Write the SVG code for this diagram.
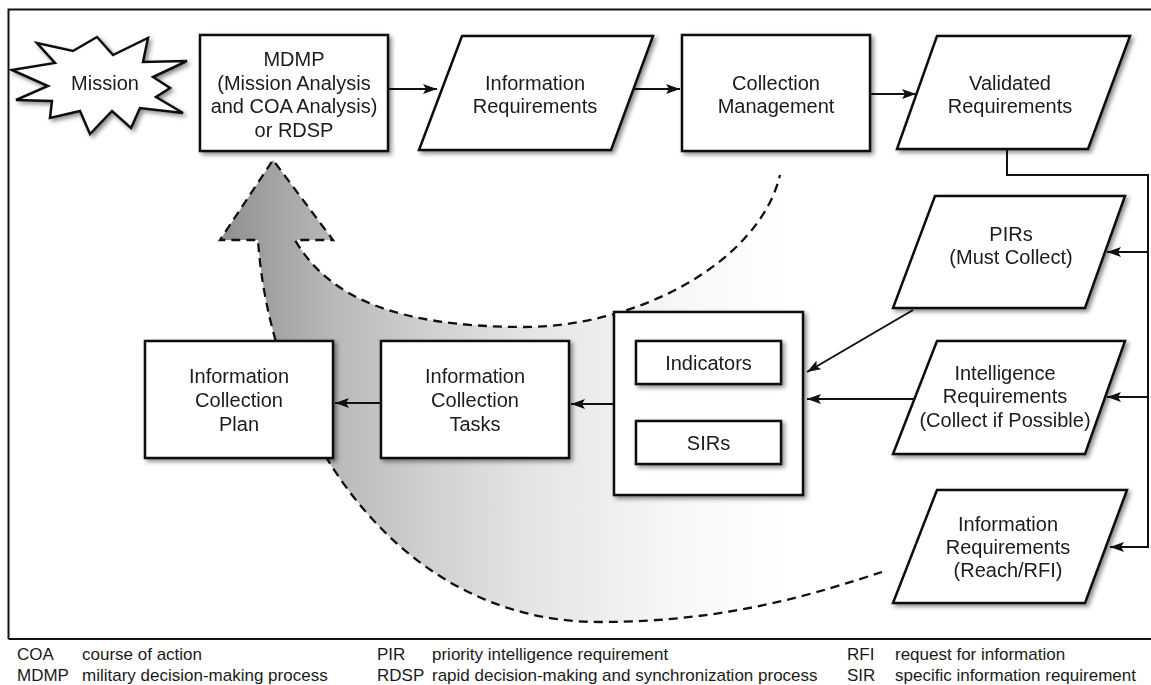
<svg xmlns="http://www.w3.org/2000/svg" width="1151" height="685" viewBox="0 0 1151 685">
  <defs>
    <style>
      .box { fill: #fff; stroke: #111; stroke-width: 2.5; }
      .lbl { font-family: "Liberation Sans", Arial, sans-serif; font-size: 20px; fill: #1a1a1a; text-anchor: middle; }
      .leg { font-family: "Liberation Sans", Arial, sans-serif; font-size: 17px; fill: #1a1a1a; }
      .frame { stroke: #111; stroke-width: 2; fill: none; }
      .conn { stroke: #111; stroke-width: 2; fill: none; }
      .dash { stroke: #111; stroke-width: 2.3; fill: none; stroke-dasharray: 9 6; stroke-linejoin: miter; }
    </style>
    <marker id="ah" viewBox="0 0 14 10" refX="14" refY="5" markerWidth="14" markerHeight="10" orient="auto" markerUnits="userSpaceOnUse">
      <path d="M0,0 L14,5 L0,10 L3,5 z" fill="#111"/>
    </marker>
    <filter id="shadow" x="-10%" y="-10%" width="125%" height="130%">
      <feDropShadow dx="2.5" dy="2.5" stdDeviation="2.2" flood-color="#000" flood-opacity="0.45"/>
    </filter>
    <linearGradient id="sweep" gradientUnits="userSpaceOnUse" x1="220" y1="0" x2="790" y2="0">
      <stop offset="0" stop-color="#8f8f8f"/>
      <stop offset="0.2" stop-color="#b9b9b9"/>
      <stop offset="0.35" stop-color="#cecece"/>
      <stop offset="0.55" stop-color="#e5e5e5"/>
      <stop offset="0.8" stop-color="#f7f7f7"/>
      <stop offset="1" stop-color="#ffffff"/>
    </linearGradient>
  </defs>

  <rect x="0" y="0" width="1151" height="685" fill="#fff"/>

  <!-- outer frame and legend separator -->
  <g id="frame">
    <path class="frame" d="M8.5,639 L8.5,9.5 L1151,9.5"/>
    <path class="frame" d="M8.5,639 L1151,639"/>
  </g>

  <!-- curved feedback arrow back to the MDMP -->
  <g id="feedback">
    <path fill="url(#sweep)" d="M882,572 C820,592 730,622 600,622 C390,622 270,420 258,240 L220,240 L273,160 L333,240 L295,240 C330,300 400,326 520,327 C640,328 760,260 780,175 Z"/>
    <path class="dash" d="M882,572 C820,592 730,622 600,622 C390,622 270,420 258,240 L220,240 L273,160 L333,240 L295,240 C330,300 400,326 520,327 C640,328 760,260 780,175"/>
  </g>

  <!-- connectors -->
  <g id="connectors">
    <line class="conn" x1="389" y1="89" x2="437" y2="89" marker-end="url(#ah)"/>
    <line class="conn" x1="634" y1="89" x2="680" y2="89" marker-end="url(#ah)"/>
    <line class="conn" x1="871" y1="94" x2="916" y2="94" marker-end="url(#ah)"/>
    <path class="conn" d="M1007,150 L1007,175 L1148,175 L1148,547 L1110,547" marker-end="url(#ah)"/>
    <line class="conn" x1="1148" y1="252" x2="1107" y2="252" marker-end="url(#ah)"/>
    <line class="conn" x1="1148" y1="397" x2="1107" y2="397" marker-end="url(#ah)"/>
    <line class="conn" x1="913" y1="310" x2="807" y2="372" marker-end="url(#ah)"/>
    <line class="conn" x1="914" y1="399" x2="807" y2="399" marker-end="url(#ah)"/>
    <line class="conn" x1="614" y1="404" x2="571" y2="404" marker-end="url(#ah)"/>
    <line class="conn" x1="381" y1="403" x2="335" y2="403" marker-end="url(#ah)"/>
  </g>

  <!-- nodes -->
  <g id="mission" filter="url(#shadow)">
    <path class="box" d="M12,70 L55,63 L37,43 L73,51 L97,37 L113,55 L148,38 L143,62 L187,61 L153,77 L170,88 L156,97 L183,113 L140,108 L131,128 L112,111 L90,134 L80,111 L50,118 L52,101 L16,100 L48,86 Z"/>
    <text class="lbl" x="105" y="90">Mission</text>
  </g>

  <g id="mdmp" filter="url(#shadow)">
    <rect class="box" x="200" y="35" width="188" height="116"/>
    <text class="lbl" x="294" y="66">MDMP</text>
    <text class="lbl" x="294" y="90">(Mission Analysis</text>
    <text class="lbl" x="294" y="113">and COA Analysis)</text>
    <text class="lbl" x="294" y="137">or RDSP</text>
  </g>

  <g id="info-req" filter="url(#shadow)">
    <path class="box" d="M462,36 L653,36 L611,150 L419,150 Z"/>
    <text class="lbl" x="535" y="90">Information</text>
    <text class="lbl" x="535" y="113">Requirements</text>
  </g>

  <g id="collection-mgmt" filter="url(#shadow)">
    <rect class="box" x="682" y="35" width="188" height="116"/>
    <text class="lbl" x="776" y="90">Collection</text>
    <text class="lbl" x="776" y="113">Management</text>
  </g>

  <g id="validated-req" filter="url(#shadow)">
    <path class="box" d="M937,36 L1130,36 L1088,149 L897,149 Z"/>
    <text class="lbl" x="1010" y="90">Validated</text>
    <text class="lbl" x="1010" y="113">Requirements</text>
  </g>

  <g id="pirs" filter="url(#shadow)">
    <path class="box" d="M935,196 L1125,196 L1085,308 L893,308 Z"/>
    <text class="lbl" x="1011" y="241">PIRs</text>
    <text class="lbl" x="1011" y="264">(Must Collect)</text>
  </g>

  <g id="intel-req" filter="url(#shadow)">
    <path class="box" d="M937,341 L1125,341 L1085,454 L893,454 Z"/>
    <text class="lbl" x="1005" y="380">Intelligence</text>
    <text class="lbl" x="1005" y="403">Requirements</text>
    <text class="lbl" x="1005" y="427">(Collect if Possible)</text>
  </g>

  <g id="info-req-rfi" filter="url(#shadow)">
    <path class="box" d="M937,490 L1127,490 L1085,603 L893,603 Z"/>
    <text class="lbl" x="1008" y="531">Information</text>
    <text class="lbl" x="1008" y="554">Requirements</text>
    <text class="lbl" x="1008" y="577">(Reach/RFI)</text>
  </g>

  <g id="indicators-sirs" filter="url(#shadow)">
    <rect class="box" x="614" y="312" width="189" height="183"/>
  </g>
  <g id="indicators" filter="url(#shadow)">
    <rect class="box" x="636" y="341" width="145" height="43"/>
    <text class="lbl" x="708.5" y="370">Indicators</text>
  </g>
  <g id="sirs" filter="url(#shadow)">
    <rect class="box" x="636" y="421" width="145" height="43"/>
    <text class="lbl" x="708.5" y="450">SIRs</text>
  </g>

  <g id="ic-tasks" filter="url(#shadow)">
    <rect class="box" x="381" y="341" width="188" height="117"/>
    <text class="lbl" x="475" y="383">Information</text>
    <text class="lbl" x="475" y="407">Collection</text>
    <text class="lbl" x="475" y="431">Tasks</text>
  </g>

  <g id="ic-plan" filter="url(#shadow)">
    <rect class="box" x="145" y="341" width="188" height="117"/>
    <text class="lbl" x="239" y="383">Information</text>
    <text class="lbl" x="239" y="407">Collection</text>
    <text class="lbl" x="239" y="431">Plan</text>
  </g>

  <!-- legend -->
  <g id="legend">
    <text class="leg" x="17" y="660">COA</text>
    <text class="leg" x="82" y="660">course of action</text>
    <text class="leg" x="17" y="681">MDMP</text>
    <text class="leg" x="82" y="681">military decision-making process</text>
    <text class="leg" x="377" y="660">PIR</text>
    <text class="leg" x="432" y="660">priority intelligence requirement</text>
    <text class="leg" x="377" y="681">RDSP</text>
    <text class="leg" x="432" y="681">rapid decision-making and synchronization process</text>
    <text class="leg" x="847" y="660">RFI</text>
    <text class="leg" x="895" y="660">request for information</text>
    <text class="leg" x="847" y="681">SIR</text>
    <text class="leg" x="895" y="681">specific information requirement</text>
  </g>
</svg>
